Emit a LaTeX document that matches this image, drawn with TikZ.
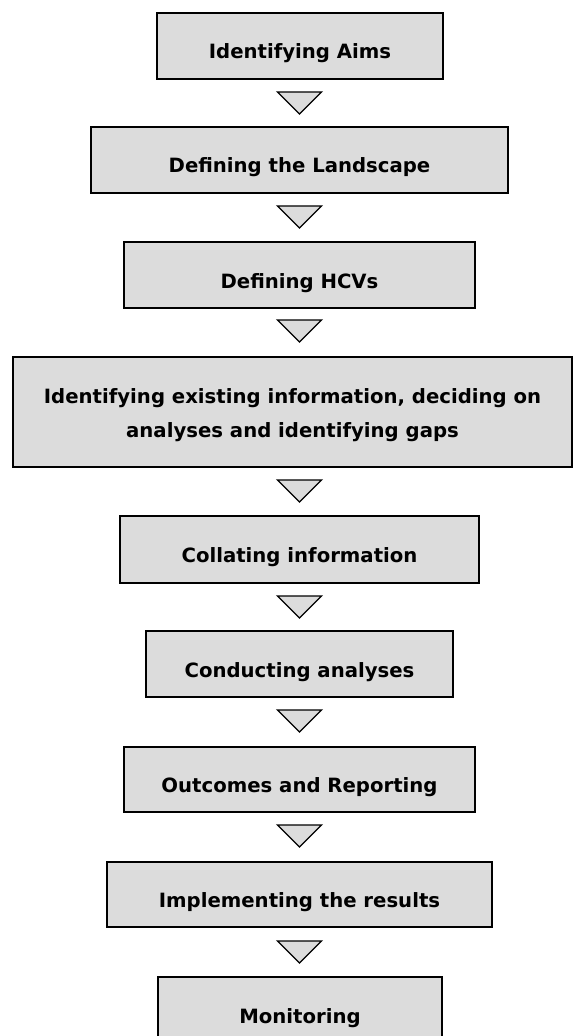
\documentclass[tikz,border=0pt]{standalone}
\usepackage{fontspec}
\setmainfont{DejaVu Sans}
\definecolor{boxgray}{RGB}{220,220,220}

\begin{document}
\begin{tikzpicture}[
  stage/.style={draw=black,line width=1pt,fill=boxgray,inner sep=0pt,
    minimum height=1.65cm,text height=0.65cm,text depth=0cm,
    font=\bfseries\fontsize{14}{24}\selectfont},
  tri/.style={draw=black,line width=0.9pt,fill=boxgray,line join=miter}
]
\useasboundingbox (0,0) rectangle (14.325,-25.9);

% stages of the assessment
\node[stage,minimum width=7.15cm]  (aims)      at (7.5,-1.15)     {Identifying Aims};
\node[stage,minimum width=10.425cm] (landscape) at (7.4875,-4.0)   {Defining the Landscape};
\node[stage,minimum width=8.775cm] (hcvs)      at (7.4875,-6.875)  {Defining HCVs};
\node[stage,minimum width=13.975cm,minimum height=2.75cm,align=center,
      text height=1.25cm,text depth=0cm] (gaps) at (7.3125,-10.3)
      {Identifying existing information, deciding on\\analyses and identifying gaps};
\node[stage,minimum width=8.975cm,minimum height=1.675cm] (collate) at (7.4875,-13.7375) {Collating information};
\node[stage,minimum width=7.675cm] (analyses)  at (7.4875,-16.6)   {Conducting analyses};
\node[stage,minimum width=8.775cm,minimum height=1.625cm] (report) at (7.4875,-19.4875) {Outcomes and Reporting};
\node[stage,minimum width=9.625cm,minimum height=1.625cm] (implement) at (7.4875,-22.3625) {Implementing the results};
\node[stage,minimum width=7.1cm]   (monitor)   at (7.5,-25.25)    {Monitoring};

% triangles between the stages (top edge y)
\foreach \ty in {-2.3,-5.15,-8.0,-12.0,-14.9,-17.75,-20.625,-23.525}
  \draw[tri] (6.9375,\ty) -- (8.0375,\ty) -- (7.4875,\ty-0.55) -- cycle;

\end{tikzpicture}
\end{document}
